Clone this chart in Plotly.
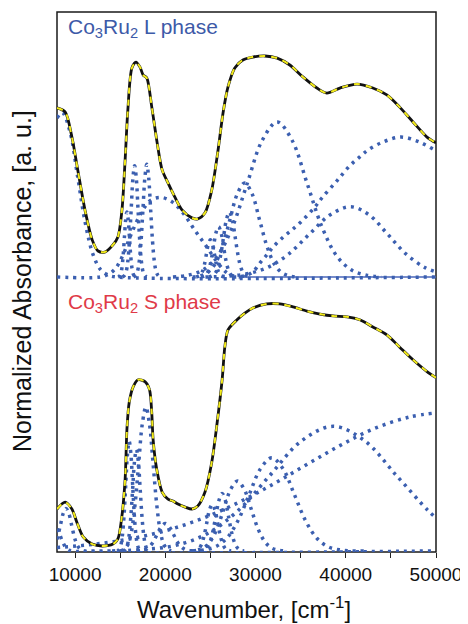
import plotly.graph_objects as go

# ---------------- data (wavenumber in cm^-1, normalized absorbance) ----------------
# Top panel: Co3Ru2 L phase -- measured spectrum / fit
fit_L_x = [8000, 8900, 9650, 10300, 11100, 11900, 12550, 13300, 14200, 14750, 15200, 15550, 15850,
           16300, 16750, 17200, 17550, 17950, 18500, 19100, 19650, 20300, 21050, 21850, 22950, 23600,
           24400, 25150, 25850, 26400, 26950, 27700, 28600, 29700, 31050, 32400, 33800, 35250, 36800,
           37900, 39350, 41250, 43000, 44550, 45950, 47450, 49000, 50000]
fit_L_y = [0.638, 0.623, 0.528, 0.404, 0.253, 0.140, 0.098, 0.094, 0.121, 0.151, 0.253, 0.442, 0.630,
           0.789, 0.811, 0.792, 0.762, 0.751, 0.642, 0.506, 0.404, 0.355, 0.302, 0.253, 0.223, 0.219,
           0.242, 0.328, 0.479, 0.619, 0.717, 0.789, 0.819, 0.830, 0.834, 0.826, 0.800, 0.755, 0.713,
           0.694, 0.713, 0.728, 0.713, 0.687, 0.642, 0.585, 0.528, 0.506]

# Top panel: fitted bands (dotted)
L1_x = [8000, 8600, 9450, 10300, 11150, 12000, 12850, 13700, 14550, 50000]
L1_y = [0.600, 0.620, 0.547, 0.376, 0.201, 0.084, 0.027, 0.007, 0.0, 0.0]
L2_x = [8000, 12800, 13900, 14650, 15400, 16200, 17300, 18400, 19500, 20700, 22000, 23300, 24600,
        25700, 26300, 26900, 27600, 28500]
L2_y = [0.0, 0.0, 0.014, 0.04, 0.09, 0.16, 0.24, 0.29, 0.30, 0.285, 0.24, 0.175, 0.113,
        0.058, 0.033, 0.014, 0.004, 0.0]
L3_x = [14770, 14910, 15050, 15190, 15330, 15470, 15610, 15750, 15890, 16030, 16170, 16310,
        16450, 16590, 16730]
L3_y = [0, 0.003, 0.011, 0.033, 0.080, 0.149, 0.216, 0.245, 0.216, 0.149, 0.080, 0.033,
        0.011, 0.003, 0]
L4_x = [15270, 15460, 15650, 15840, 16030, 16220, 16410, 16600, 16790, 16980, 17170, 17360,
        17550, 17740, 17930]
L4_y = [0, 0.005, 0.018, 0.057, 0.136, 0.255, 0.371, 0.420, 0.371, 0.255, 0.136, 0.057,
        0.018, 0.005, 0]
L5_x = [16480, 16690, 16900, 17110, 17320, 17530, 17740, 17950, 18160, 18370, 18580, 18790,
        19000, 19210, 19420]
L5_y = [0, 0.005, 0.019, 0.058, 0.138, 0.258, 0.375, 0.425, 0.375, 0.258, 0.138, 0.058,
        0.019, 0.005, 0]
L6_x = [23425, 23650, 23875, 24100, 24325, 24550, 24775, 25000, 25225, 25450, 25675, 25900,
        26125, 26350, 26575]
L6_y = [0, 0.002, 0.006, 0.019, 0.045, 0.085, 0.124, 0.140, 0.124, 0.085, 0.045, 0.019,
        0.006, 0.002, 0]
L7_x = [23975, 24250, 24525, 24800, 25075, 25350, 25625, 25900, 26175, 26450, 26725, 27000,
        27275, 27550, 27825]
L7_y = [0, 0.002, 0.008, 0.026, 0.062, 0.115, 0.168, 0.190, 0.168, 0.115, 0.062, 0.026,
        0.008, 0.002, 0]
L8_x = [24825, 25150, 25475, 25800, 26125, 26450, 26775, 27100, 27425, 27750, 28075, 28400,
        28725, 29050, 29375]
L8_y = [0, 0.003, 0.011, 0.033, 0.080, 0.149, 0.216, 0.245, 0.216, 0.149, 0.080, 0.033,
        0.011, 0.003, 0]
L9_x = [23025, 23850, 24675, 25500, 26325, 27150, 27975, 28800, 29625, 30450, 31275, 32100,
        32925, 33750, 34575]
L9_y = [0, 0.004, 0.016, 0.048, 0.115, 0.215, 0.313, 0.355, 0.313, 0.215, 0.115, 0.048,
        0.016, 0.004, 0]
L10_x = [20850, 22500, 24150, 25800, 27450, 29100, 30750, 32400, 34050, 35700, 37350, 39000,
         40650, 42300, 43950]
L10_y = [0, 0.0065, 0.026, 0.079, 0.19, 0.355, 0.516, 0.585, 0.516, 0.355, 0.19, 0.079,
         0.026, 0.0065, 0]
L11_x = [24450, 26750, 29050, 31350, 33650, 35950, 38250, 40550, 42600, 44650, 46700, 48750, 50000]
L11_y = [0, 0.003, 0.012, 0.036, 0.086, 0.161, 0.234, 0.265, 0.234, 0.161, 0.086, 0.036, 0.019]
L12_x = [27500, 28800, 29700, 30500, 31250, 31950, 33050, 34050, 35250, 36600, 37350, 39000,
         40450, 41550, 42450, 44100, 46100, 47900, 48850, 49700, 50000]
L12_y = [0, 0.004, 0.019, 0.053, 0.083, 0.113, 0.15, 0.178, 0.215, 0.265, 0.298, 0.362,
         0.42, 0.453, 0.479, 0.509, 0.528, 0.513, 0.498, 0.482, 0.477]
baseline_L_x = [28300, 50000]
baseline_L_y = [0, 0]

# Bottom panel: Co3Ru2 S phase -- measured spectrum / fit
fit_S_x = [8000, 8900, 9650, 10200, 10900, 11900, 13000, 14200, 14750, 15150, 15550, 15750, 16000,
           16450, 17000, 17750, 18250, 18500, 18650, 19050, 19650, 20300, 20850, 21400, 22200, 22950,
           23600, 24400, 25150, 25750, 26300, 26600, 26950, 27950, 28850, 29700, 31250, 32700, 34150,
           35700, 37150, 38600, 40150, 41550, 43000, 44550, 45950, 47450, 49000, 50000]
fit_S_y = [0.153, 0.178, 0.153, 0.105, 0.051, 0.025, 0.018, 0.025, 0.044, 0.116, 0.262, 0.444, 0.542,
           0.600, 0.625, 0.618, 0.589, 0.505, 0.407, 0.298, 0.215, 0.189, 0.182, 0.171, 0.160, 0.153,
           0.164, 0.215, 0.324, 0.469, 0.625, 0.745, 0.807, 0.844, 0.869, 0.887, 0.902, 0.902, 0.891,
           0.876, 0.865, 0.858, 0.855, 0.844, 0.818, 0.789, 0.745, 0.698, 0.655, 0.633]

# Bottom panel: fitted bands (dotted)
S1_x = [8000, 8300, 8600, 8900, 9200, 9600, 50000]
S1_y = [0.08, 0.06, 0.035, 0.016, 0.005, 0.0, 0.0]
S2_x = [8000, 8380, 8690, 9000, 9310, 9620, 9930, 10240, 10550, 10860, 11170, 14000]
S2_y = [0.042, 0.094, 0.137, 0.155, 0.137, 0.094, 0.05, 0.021, 0.007, 0.002, 0.0, 0.0]
S3_x = [14670, 14860, 15050, 15240, 15430, 15620, 15810, 16000, 16190, 16380, 16570, 16760,
        16950, 17140, 17330]
S3_y = [0, 0.004, 0.018, 0.054, 0.130, 0.243, 0.353, 0.400, 0.353, 0.243, 0.130, 0.054,
        0.018, 0.004, 0]
S4_x = [15330, 15540, 15750, 15960, 16170, 16380, 16590, 16800, 17010, 17220, 17430, 17640,
        17850, 18060, 18270]
S4_y = [0, 0.004, 0.016, 0.050, 0.120, 0.224, 0.327, 0.370, 0.327, 0.224, 0.120, 0.050,
        0.016, 0.004, 0]
S5_x = [15050, 15450, 15850, 16250, 16650, 17050, 17450, 17850, 18250, 18650, 19050, 19450,
        19850, 20250, 20650]
S5_y = [0, 0.006, 0.023, 0.071, 0.170, 0.318, 0.463, 0.525, 0.463, 0.318, 0.170, 0.071,
        0.023, 0.006, 0]
S6_x = [16850, 17300, 17750, 18200, 18650, 19100, 19550, 20000, 20450, 20900, 21350, 21800,
        22250, 22700, 23150]
S6_y = [0, 0.001, 0.004, 0.014, 0.032, 0.061, 0.088, 0.100, 0.088, 0.061, 0.032, 0.014,
        0.004, 0.001, 0]
S7_x = [23100, 23400, 23700, 24000, 24300, 24600, 24900, 25200, 25500, 25800, 26100, 26400,
        26700, 27000, 27300]
S7_y = [0, 0.002, 0.007, 0.023, 0.055, 0.103, 0.150, 0.170, 0.150, 0.103, 0.055, 0.023,
        0.007, 0.002, 0]
S8_x = [23850, 24200, 24550, 24900, 25250, 25600, 25950, 26300, 26650, 27000, 27350, 27700,
        28050, 28400, 28750]
S8_y = [0, 0.002, 0.009, 0.028, 0.068, 0.127, 0.185, 0.210, 0.185, 0.127, 0.068, 0.028,
        0.009, 0.002, 0]
S9_x = [22750, 23500, 24250, 25000, 25750, 26500, 27250, 28000, 28750, 29500, 30250, 31000,
        31750, 32500, 33250]
S9_y = [0, 0.003, 0.011, 0.035, 0.083, 0.155, 0.225, 0.255, 0.225, 0.155, 0.083, 0.035,
        0.011, 0.003, 0]
S10_x = [23050, 24300, 25550, 26800, 28050, 29300, 30550, 31800, 33050, 34300, 35550, 36800,
         38050, 39300, 40550, 42000]
S10_y = [0, 0.004, 0.015, 0.046, 0.110, 0.206, 0.300, 0.340, 0.300, 0.206, 0.110, 0.046,
         0.015, 0.004, 0, 0]
S11_x = [14100, 17600, 21100, 24600, 28100, 31600, 35100, 38600, 42100, 45600, 49100, 50000]
S11_y = [0, 0.005, 0.020, 0.062, 0.148, 0.276, 0.402, 0.455, 0.402, 0.276, 0.148, 0.121]
S12_x = [8000, 11500, 15450, 19400, 23350, 27300, 31250, 35200, 39150, 43100, 47050, 50000]
S12_y = [0.0125, 0.022, 0.040, 0.068, 0.109, 0.164, 0.231, 0.306, 0.381, 0.446, 0.489, 0.504]

x_ticks = [10000, 20000, 30000, 40000, 50000]

# ---------------- styling ----------------
FONT = "Liberation Sans, Arial, sans-serif"
BLUE = "#3b5fb0"
BLACK = "#111111"
YELLOW = "#f2ea1c"

L_bands = [(L1_x, L1_y), (L2_x, L2_y), (L3_x, L3_y), (L4_x, L4_y), (L5_x, L5_y), (L6_x, L6_y),
           (L7_x, L7_y), (L8_x, L8_y), (L9_x, L9_y), (L10_x, L10_y), (L11_x, L11_y), (L12_x, L12_y)]
S_bands = [(S1_x, S1_y), (S2_x, S2_y), (S3_x, S3_y), (S4_x, S4_y), (S5_x, S5_y), (S6_x, S6_y),
           (S7_x, S7_y), (S8_x, S8_y), (S9_x, S9_y), (S10_x, S10_y), (S11_x, S11_y), (S12_x, S12_y)]

fig = go.Figure()

dotted = dict(color=BLUE, width=3.5, dash="3px,5px", shape="spline", smoothing=1)


def add_panel(bands, fx, fy, yref):
    for bx, by in bands:
        fig.add_trace(go.Scatter(x=bx, y=by, xaxis="x", yaxis=yref, mode="lines", line=dotted,
                                 hoverinfo="skip", showlegend=False))
    fig.add_trace(go.Scatter(x=fx, y=fy, xaxis="x", yaxis=yref, mode="lines",
                             line=dict(color=BLACK, width=2.8, shape="spline", smoothing=0.8),
                             hoverinfo="skip", showlegend=False))
    fig.add_trace(go.Scatter(x=fx, y=fy, xaxis="x", yaxis=yref, mode="lines",
                             line=dict(color=YELLOW, width=2.0, dash="6px,6px", shape="spline", smoothing=0.8),
                             hoverinfo="skip", showlegend=False))


fig.add_trace(go.Scatter(x=baseline_L_x, y=baseline_L_y, xaxis="x", yaxis="y2", mode="lines",
                         line=dict(color="#4a66b8", width=1.6), hoverinfo="skip", showlegend=False))
add_panel(L_bands, fit_L_x, fit_L_y, "y2")
add_panel(S_bands, fit_S_x, fit_S_y, "y")

# The page body has an 8 px default margin (top/left), so the figure is drawn 8 px
# smaller and its top/left margins are reduced accordingly.
fig.update_layout(
    width=460, height=616,
    margin=dict(l=49, r=32, t=4, b=72, autoexpand=False),
    paper_bgcolor="white", plot_bgcolor="white",
    font=dict(family=FONT, color="#111111"),
    xaxis=dict(domain=[0, 1], range=[8000, 50000], anchor="y", tickmode="array", tickvals=x_ticks,
               ticktext=[str(v) for v in x_ticks], ticks="outside", ticklen=5, tickwidth=1.3,
               tickcolor="#222222", tickfont=dict(size=19, family=FONT, color="#111111"),
               minor=dict(tickmode="linear", tick0=5000, dtick=10000, ticks="outside", ticklen=5,
                          tickwidth=1.3, tickcolor="#222222"),
               showline=False, showgrid=False, zeroline=False, automargin=False),
    yaxis=dict(domain=[0, 0.5], range=[-0.004, 0.982], visible=False, fixedrange=True),
    yaxis2=dict(domain=[0.5, 1], range=[-0.019, 1.0], visible=False, anchor="x", fixedrange=True),
    shapes=[dict(type="rect", xref="paper", yref="paper", x0=0, x1=1, y0=0, y1=1,
                 line=dict(color="#1a1a1a", width=1.5), layer="below")],
    annotations=[
        dict(text="Co<sub>3</sub>Ru<sub>2</sub> L phase", xref="paper", yref="paper", x=0.024, y=0.970,
             xanchor="left", yanchor="middle", showarrow=False, font=dict(size=21, color="#3d5aa8", family=FONT)),
        dict(text="Co<sub>3</sub>Ru<sub>2</sub> S phase", xref="paper", yref="paper", x=0.024, y=0.461,
             xanchor="left", yanchor="middle", showarrow=False, font=dict(size=21, color="#e03a48", family=FONT)),
        dict(text="Normalized Absorbance, [a. u.]", xref="paper", yref="paper", x=-0.092, y=0.502,
             xanchor="center", yanchor="middle", textangle=-90, showarrow=False,
             font=dict(size=25, color="#111111", family=FONT)),
        dict(text="Wavenumber, [cm<sup>-1</sup>]", xref="paper", yref="paper", x=0.493, y=-0.103,
             xanchor="center", yanchor="middle", showarrow=False,
             font=dict(size=24, color="#111111", family=FONT)),
    ],
)

fig.write_html("out.html")
